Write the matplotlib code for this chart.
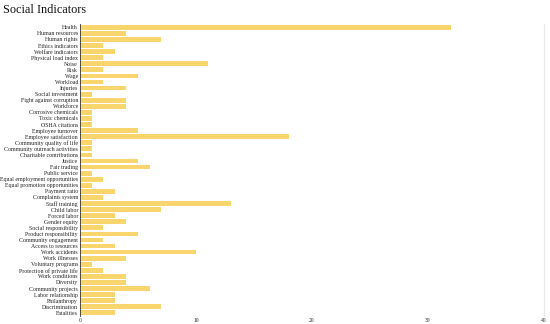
import matplotlib.pyplot as plt

categorias = [
    "Health", "Human resources", "Human rights", "Ethics indicators",
    "Welfare indicators", "Physical load index", "Noise", "Risk", "Wage",
    "Workload", "Injuries", "Social investment", "Fight against corruption",
    "Workforce", "Corrosive chemicals", "Toxic chemicals", "OSHA citations",
    "Employee turnover", "Employee satisfaction", "Community quality of life",
    "Community outreach activities", "Charitable contributions", "Justice",
    "Fair trading", "Public service", "Equal employment opportunities",
    "Equal promotion opportunities", "Payment ratio", "Complaints system",
    "Staff training", "Child labor", "Forced labor", "Gender equity",
    "Social responsibility", "Product responsibility", "Community engagement",
    "Access to resources", "Work accidents", "Work illnesses",
    "Voluntary programs", "Protection of private life", "Work conditions",
    "Diversity", "Community projects", "Labor relationship", "Philanthropy",
    "Discrimination", "Fatalities",
]
valores = [
    32, 4, 7, 2, 3, 2, 11, 2, 5, 2, 4, 1, 4, 4, 1, 1, 1, 5, 18, 1, 1, 1, 5,
    6, 1, 2, 1, 3, 2, 13, 7, 3, 4, 2, 5, 2, 3, 10, 4, 1, 2, 4, 4, 6, 3, 3,
    7, 3,
]
ticks_x = [0, 10, 20, 30, 40]

plt.rcParams["font.family"] = ["Liberation Serif", "DejaVu Serif"]

fig = plt.figure(figsize=(5.5, 3.24), dpi=100)
ax = fig.add_axes([0.1455, 0.025, 0.8435, 0.9])

ax.barh(range(len(categorias)), valores, height=0.78, color="#f9d56e")
ax.set_yticks(range(len(categorias)))
ax.set_yticklabels(categorias, fontsize=4.2, color="#222222")
ax.set_ylim(len(categorias) - 0.5, -0.5)
ax.set_xlim(0, 40)
ax.set_xticks(ticks_x)
ax.set_xticklabels([str(t) for t in ticks_x], fontsize=4.0, color="#222222")
ax.tick_params(axis="both", length=0, pad=1.5)

ax.spines["top"].set_visible(False)
ax.spines["bottom"].set_visible(False)
ax.spines["right"].set_color("#e8e8e8")
ax.spines["right"].set_linewidth(0.8)
ax.spines["left"].set_color("#333333")
ax.spines["left"].set_linewidth(0.6)

fig.text(0.006, 0.968, "Social Indicators", fontsize=8.8, color="#111111",
         va="center", ha="left")

fig.savefig("out.png", dpi=100)
